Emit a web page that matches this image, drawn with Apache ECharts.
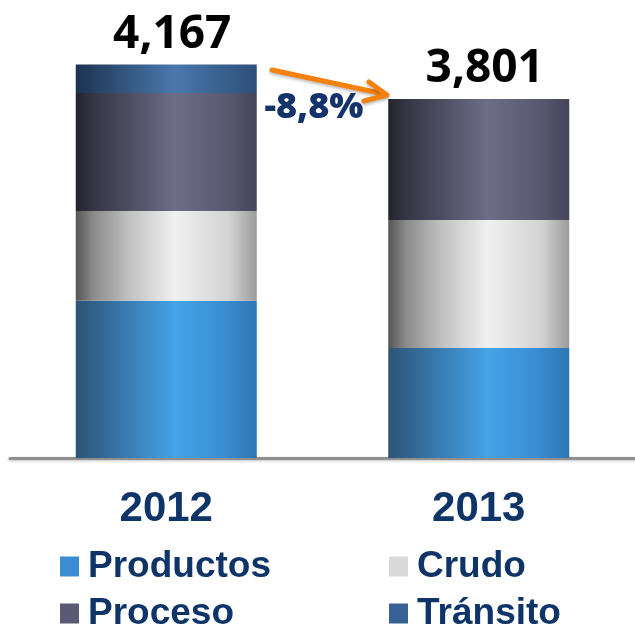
<!DOCTYPE html>
<html>
<head>
<meta charset="utf-8">
<script src="https://cdn.jsdelivr.net/npm/echarts@6/dist/echarts.min.js"></script>
<style>
html,body{margin:0;padding:0;background:#fff;}
#chart{width:635px;height:625px;}
</style>
</head>
<body>
<div id="chart"></div>
<script>
const categories = ['2012', '2013'];
const productos = [1665, 1165];
const crudo = [949, 1355];
const proceso = [1252, 1281];
const transito = [301, 0];
const totals = [4167, 3801];
const totalLabels = ['4,167', '3,801'];
const changeLabel = '-8,8%';
const seriesNames = ['Productos', 'Crudo', 'Proceso', 'Tránsito'];

function grad(stops) {
  return new echarts.graphic.LinearGradient(0, 0, 1, 0,
    stops.map(s => ({offset: s[0], color: s[1]})));
}
const fills = {
  'Productos': grad([[0,'#2e5374'],[0.12,'#32648f'],[0.55,'#45a3e8'],[0.8,'#3a8fd4'],[1,'#2f76b3']]),
  'Crudo': grad([[0,'#555555'],[0.1,'#8c8c8c'],[0.3,'#c2c2c2'],[0.55,'#f0f0f0'],[0.85,'#d2d2d2'],[1,'#9a9a9a']]),
  'Proceso': grad([[0,'#24242f'],[0.12,'#383849'],[0.55,'#6d6d88'],[0.85,'#57576e'],[1,'#44445a']]),
  'Tránsito': grad([[0,'#1d3350'],[0.55,'#4a78ae'],[1,'#2c4f78']])
};
const legendColors = {
  'Productos': '#3a8dd2', 'Crudo': '#d9d9d9', 'Proceso': '#5b5a75', 'Tránsito': '#3a6196'
};
const dataBy = {'Productos': productos, 'Crudo': crudo, 'Proceso': proceso, 'Tránsito': transito};

const chart = echarts.init(document.getElementById('chart'), null, {renderer: 'canvas'});

const series = seriesNames.map(n => ({
  name: n, type: 'bar', stack: 'total', barWidth: 181,
  data: dataBy[n],
  itemStyle: {color: fills[n]},
  emphasis: {disabled: true}
}));
series.push({
  name: 'total', type: 'bar', stack: 'total', barWidth: 181,
  data: categories.map(() => 0),
  itemStyle: {color: 'transparent'},
  label: {
    show: true, position: 'top', distance: 7, offset: [6, 0],
    formatter: p => totalLabels[p.dataIndex],
    fontFamily: 'Open Sans', fontWeight: 'bold', fontSize: 46, color: '#000'
  },
  silent: true
});

const legendText = {
  fontFamily: 'Liberation Sans, Arial', fontWeight: 'bold', fontSize: 37,
  color: '#0f3568', lineHeight: 37, padding: [0, 0, 0, 4]
};
const legendPos = {
  'Productos': [60, 548], 'Proceso': [60, 595], 'Crudo': [389, 548], 'Tránsito': [389, 595]
};
const legends = seriesNames.map(n => ({
  left: legendPos[n][0], top: legendPos[n][1], itemWidth: 19, itemHeight: 20,
  data: [{name: n, icon: 'rect', itemStyle: {color: legendColors[n]}}],
  textStyle: legendText, selectedMode: false, padding: 0
}));

chart.setOption({
  animation: false,
  backgroundColor: '#ffffff',
  grid: {left: 10, width: 631, top: 33, bottom: 167},
  xAxis: {
    type: 'category', data: categories,
    axisLine: {show: true, lineStyle: {color: '#8f8f8f', width: 3, shadowColor: 'rgba(0,0,0,0.25)', shadowBlur: 3, shadowOffsetY: 1}},
    axisTick: {show: false},
    axisLabel: {
      margin: 30, fontFamily: 'Liberation Sans, Arial', fontWeight: 'bold',
      fontSize: 42, color: '#0f3568'
    }
  },
  yAxis: {type: 'value', min: 0, max: 4500, show: false, splitLine: {show: false}},
  legend: legends,
  series: series,
  graphic: [
    {
      type: 'line', shape: {x1: 272, y1: 70, x2: 384, y2: 94},
      style: {stroke: '#f5820f', lineWidth: 5, lineCap: 'round', shadowColor: 'rgba(0,0,0,0.25)', shadowBlur: 3, shadowOffsetY: 2}
    },
    {
      type: 'polyline', shape: {points: [[369, 82], [387, 95], [364, 101]]},
      style: {stroke: '#f5820f', fill: null, lineWidth: 5, lineJoin: 'round', lineCap: 'round', shadowColor: 'rgba(0,0,0,0.25)', shadowBlur: 3, shadowOffsetY: 2}
    },
    {
      type: 'text', x: 314, y: 108,
      style: {
        text: changeLabel, fontFamily: 'Open Sans', fontWeight: 800, fontSize: 36,
        fill: '#13336a', align: 'center', verticalAlign: 'middle'
      }
    }
  ]
});
</script>
</body>
</html>
